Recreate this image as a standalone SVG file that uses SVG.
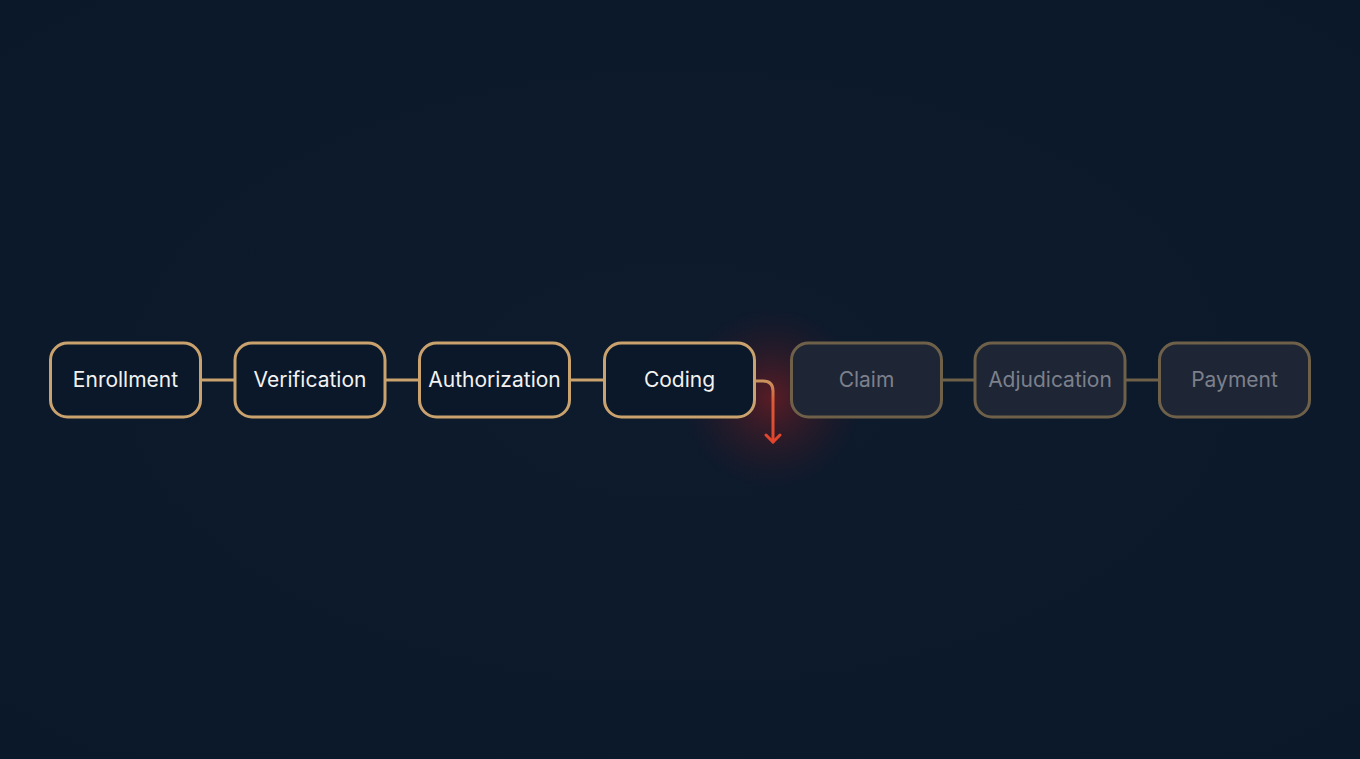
<svg xmlns="http://www.w3.org/2000/svg" width="1360" height="759" viewBox="0 0 1360 759">
<defs>
<radialGradient id="bg" cx="50%" cy="50%" r="75%">
<stop offset="0" stop-color="#0d1b2d"/>
<stop offset="1" stop-color="#0b1829"/>
</radialGradient>
<radialGradient id="glow" cx="772" cy="398" r="92" gradientUnits="userSpaceOnUse">
<stop offset="0" stop-color="#7a1d22" stop-opacity="0.7"/>
<stop offset="0.5" stop-color="#5a1a22" stop-opacity="0.35"/>
<stop offset="1" stop-color="#3a1522" stop-opacity="0"/>
</radialGradient>
<linearGradient id="red" x1="0" y1="380" x2="0" y2="444" gradientUnits="userSpaceOnUse">
<stop offset="0" stop-color="#c9955f"/>
<stop offset="0.35" stop-color="#dc5a35"/>
<stop offset="1" stop-color="#e2432c"/>
</linearGradient>
<style>
.box{fill:#0b1829;stroke:#c9a26e;stroke-width:3}
.dim{fill:#1e2535;stroke:#6f6149;stroke-width:3}
.t{font-family:Inter,"Liberation Sans",sans-serif;font-size:21px;fill:#f2f2f2;text-anchor:middle;dominant-baseline:central}
.td{font-family:Inter,"Liberation Sans",sans-serif;font-size:21px;fill:#7c808b;text-anchor:middle;dominant-baseline:central}
.ln{stroke:#c9a26e;stroke-width:3;fill:none}
.lnd{stroke:#6f6149;stroke-width:3;fill:none}
</style>
</defs>
<rect width="1360" height="759" fill="url(#bg)"/>
<circle cx="772" cy="398" r="92" fill="url(#glow)"/>
<g id="connectors">
<line class="ln" x1="201" y1="380" x2="234" y2="380"/>
<line class="ln" x1="386" y1="380" x2="419" y2="380"/>
<line class="ln" x1="570" y1="380" x2="604" y2="380"/>
<line class="lnd" x1="942" y1="380" x2="974" y2="380"/>
<line class="lnd" x1="1126" y1="380" x2="1159" y2="380"/>
<g id="fail-arrow" fill="none" stroke="url(#red)" stroke-width="3" stroke-linecap="round" stroke-linejoin="round">
<path d="M756,381 H763 Q773,381 773,391 V442"/>
<path d="M766,435 L773,442 L780,435"/>
</g>
</g>
<g id="enrollment"><rect class="box" x="50.5" y="343" width="150" height="74" rx="17"/><text class="t" x="125.5" y="379">Enrollment</text></g>
<g id="verification"><rect class="box" x="235" y="343" width="150" height="74" rx="17"/><text class="t" x="310" y="379">Verification</text></g>
<g id="authorization"><rect class="box" x="419.5" y="343" width="150" height="74" rx="17"/><text class="t" x="494.5" y="379">Authorization</text></g>
<g id="coding"><rect class="box" x="604.5" y="343" width="150" height="74" rx="17"/><text class="t" x="679.5" y="379">Coding</text></g>
<g id="claim"><rect class="dim" x="791.5" y="343" width="150" height="74" rx="17"/><text class="td" x="866.5" y="379">Claim</text></g>
<g id="adjudication"><rect class="dim" x="975" y="343" width="150" height="74" rx="17"/><text class="td" x="1050" y="379">Adjudication</text></g>
<g id="payment"><rect class="dim" x="1159.5" y="343" width="150" height="74" rx="17"/><text class="td" x="1234.5" y="379">Payment</text></g>
</svg>
